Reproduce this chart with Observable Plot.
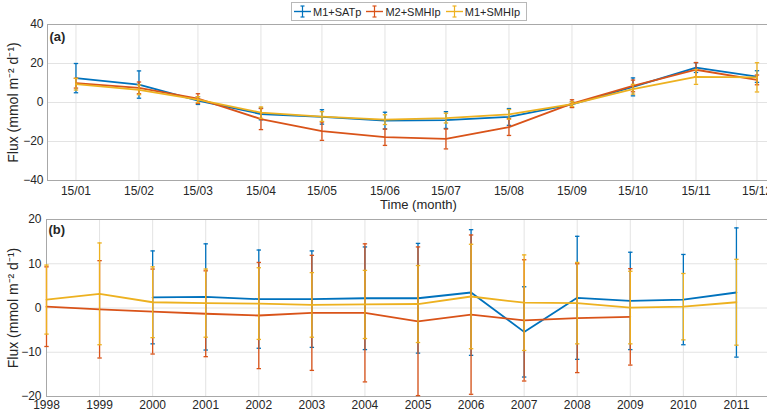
<!DOCTYPE html>
<html>
<head>
<meta charset="utf-8">
<script src="https://cdn.jsdelivr.net/npm/d3@7"></script>
<script src="https://cdn.jsdelivr.net/npm/@observablehq/plot@0.6"></script>
<style>
  html, body { margin: 0; padding: 0; background: #fff; overflow: hidden; }
  #fig { position: relative; width: 800px; height: 424px; font-family: "Liberation Sans", Arial, sans-serif; }
  #legend { position: absolute; left: 291px; top: 2px; height: 17px; border: 1px solid #b8b8b8; background: #fff;
            display: flex; align-items: center; font-size: 11px; color: #262626; padding-right: 3px; z-index: 2; }
  .item { display: flex; align-items: center; margin-right: 3px; }
  .item svg { margin: 0 2px 0 2px; }
  #a, #b { position: absolute; left: 0; }
  #a { top: 0; }
  #b { top: 212px; }
</style>
</head>
<body>
<div id="fig">
  <div id="legend"></div>
  <div id="a"></div>
  <div id="b"></div>
</div>
<script>
// Series names and colours
const seriesNames = ["M1+SATp", "M2+SMHIp", "M1+SMHIp"];
const seriesColors = ["#0072BD", "#D95319", "#EDB120"];

// (a) monthly climatology, mid-month dates
const months = ["15/01", "15/02", "15/03", "15/04", "15/05", "15/06", "15/07", "15/08", "15/09", "15/10", "15/11", "15/12"];
const m1SatpMonthly    = [12.5, 9.2, 1.0, -5.9, -7.4, -9.3, -9.0, -7.4, -1.0, 8.0, 17.9, 13.3];
const m1SatpMonthlyErr = [7.5, 7.0, 2.0, 3.0, 3.7, 4.3, 4.3, 4.3, 1.5, 4.6, 2.5, 3.0];
const m2SmhipMonthly    = [9.9, 7.5, 2.0, -8.5, -14.7, -17.8, -18.7, -12.6, -0.6, 8.5, 16.8, 11.6];
const m2SmhipMonthlyErr = [2.5, 3.0, 2.5, 5.4, 4.7, 4.2, 5.1, 4.3, 2.0, 3.0, 3.7, 2.5];
const m1SmhipMonthly    = [9.4, 6.5, 1.5, -5.2, -7.2, -8.8, -8.0, -6.1, -0.8, 6.8, 13.1, 12.9];
const m1SmhipMonthlyErr = [3.0, 2.5, 1.5, 2.9, 2.5, 2.5, 2.5, 2.5, 1.2, 2.5, 3.8, 7.5];

// (b) annual means, 1998-2011 (null where a series has no value)
const years = [1998, 1999, 2000, 2001, 2002, 2003, 2004, 2005, 2006, 2007, 2008, 2009, 2010, 2011];
const m1SatpAnnual    = [null, null, 2.4, 2.5, 2.0, 2.0, 2.2, 2.2, 3.5, -5.4, 2.3, 1.6, 1.9, 3.5];
const m1SatpAnnualErr = [null, null, 10.5, 12.0, 11.1, 10.9, 11.6, 12.4, 14.2, 10.2, 13.9, 11.0, 10.2, 14.6];
const m2SmhipAnnual    = [0.3, -0.3, -0.8, -1.3, -1.7, -1.1, -1.1, -3.0, -1.5, -2.8, -2.3, -2.0, null, null];
const m2SmhipAnnualErr = [9.0, 11.0, 9.6, 9.7, 12.0, 13.0, 15.6, 16.8, 18.0, 13.7, 12.3, 10.9, null, null];
const m1SmhipAnnual    = [1.9, 3.2, 1.3, 1.1, 1.0, 0.7, 0.8, 0.9, 2.6, 1.2, 1.1, 0.1, 0.3, 1.3];
const m1SmhipAnnualErr = [7.8, 11.5, 8.0, 7.7, 8.1, 7.3, 7.7, 8.7, 11.8, 10.8, 9.2, 8.2, 7.5, 9.7];

const yTicksA = [-40, -20, 0, 20, 40];
const yTicksB = [-20, -10, 0, 10, 20];
const fluxLabel = "Flux (mmol m\u207B\u00B2 d\u207B\u00B9)";

const parseDay = d3.utcParse("%d/%m/%Y");
const monthDates = months.map(m => parseDay(m + "/2000"));

function rows(xs, vals, errs) {
  return xs.map((x, i) => ({x, y: vals[i], e: errs[i]})).filter(d => d.y != null);
}

// horizontal end cap for error bars
const capSymbol = {
  draw(ctx, size) {
    const w = Math.sqrt(size / Math.PI);
    ctx.moveTo(-w, 0);
    ctx.lineTo(w, 0);
  }
};

function seriesMarks(data, color) {
  return [
    Plot.line(data, {x: "x", y: "y", stroke: color, strokeWidth: 1.8}),
    Plot.ruleX(data, {x: "x", y1: d => d.y - d.e, y2: d => d.y + d.e, stroke: color, strokeWidth: 1.3}),
    Plot.dot(data, {x: "x", y: d => d.y + d.e, symbol: capSymbol, r: 2.2, fill: "none", stroke: color, strokeWidth: 1.3}),
    Plot.dot(data, {x: "x", y: d => d.y - d.e, symbol: capSymbol, r: 2.2, fill: "none", stroke: color, strokeWidth: 1.3})
  ];
}

const baseStyle = {fontFamily: "'Liberation Sans', Arial, sans-serif", fontSize: "12px", color: "#262626", background: "#fff"};
const gridColor = "#e3e3e3";
const frameColor = "#a8a8a8";

// (a)
const seriesA = [
  rows(monthDates, m1SatpMonthly, m1SatpMonthlyErr),
  rows(monthDates, m2SmhipMonthly, m2SmhipMonthlyErr),
  rows(monthDates, m1SmhipMonthly, m1SmhipMonthlyErr)
];
const plotA = Plot.plot({
  width: 800, height: 212,
  marginLeft: 47, marginRight: 11, marginTop: 24, marginBottom: 32,
  style: baseStyle,
  x: {type: "utc", domain: [Date.UTC(2000, 0, 1), Date.UTC(2000, 11, 31)]},
  y: {domain: [-40, 40]},
  marks: [
    Plot.gridX(monthDates, {stroke: gridColor, strokeOpacity: 1}),
    Plot.gridY(yTicksA, {stroke: gridColor, strokeOpacity: 1}),
    Plot.frame({stroke: frameColor}),
    ...seriesA.flatMap((s, i) => seriesMarks(s, seriesColors[i])),
    Plot.axisX(monthDates, {tickFormat: d3.utcFormat("%d/%m"), tickSize: 0, tickPadding: 6, label: null, fontSize: 12}),
    Plot.axisY(yTicksA, {tickSize: 0, tickPadding: 4, label: null, fontSize: 12}),
    Plot.text(["(a)"], {frameAnchor: "top-left", dx: 2, dy: 7, lineAnchor: "top", textAnchor: "start", fontWeight: "bold", fontSize: 13}),
    Plot.text(["Time (month)"], {frameAnchor: "bottom", dy: 28, fontSize: 13}),
    Plot.text([fluxLabel], {frameAnchor: "left", dx: -34, rotate: -90, textAnchor: "middle", fontSize: 14})
  ]
});
document.getElementById("a").append(plotA);

// (b)
const seriesB = [
  rows(years, m1SatpAnnual, m1SatpAnnualErr),
  rows(years, m2SmhipAnnual, m2SmhipAnnualErr),
  rows(years, m1SmhipAnnual, m1SmhipAnnualErr)
];
const plotB = Plot.plot({
  width: 800, height: 212,
  marginLeft: 46, marginRight: 11, marginTop: 7, marginBottom: 28,
  style: baseStyle,
  x: {domain: [1998, 2012]},
  y: {domain: [-20, 20]},
  marks: [
    Plot.gridX(years, {stroke: gridColor, strokeOpacity: 1}),
    Plot.gridY(yTicksB, {stroke: gridColor, strokeOpacity: 1}),
    Plot.frame({stroke: frameColor}),
    ...seriesB.flatMap((s, i) => seriesMarks(s, seriesColors[i])),
    Plot.axisX(years, {tickFormat: "d", tickSize: 0, tickPadding: 4, label: null, fontSize: 12}),
    Plot.axisY(yTicksB, {tickSize: 0, tickPadding: 5, label: null, fontSize: 12}),
    Plot.text(["(b)"], {frameAnchor: "top-left", dx: 2, dy: 5, lineAnchor: "top", textAnchor: "start", fontWeight: "bold", fontSize: 13}),
    Plot.text([fluxLabel], {frameAnchor: "left", dx: -33, rotate: -90, textAnchor: "middle", fontSize: 14})
  ]
});
document.getElementById("b").append(plotB);

// legend with small error-bar glyphs
const legend = document.getElementById("legend");
seriesNames.forEach((name, i) => {
  const item = document.createElement("div");
  item.className = "item";
  const c = seriesColors[i];
  item.innerHTML =
    `<svg width="17" height="13" viewBox="0 0 17 13">` +
    `<line x1="0" y1="6.5" x2="17" y2="6.5" stroke="${c}" stroke-width="1.4"/>` +
    `<line x1="8.5" y1="1" x2="8.5" y2="12" stroke="${c}" stroke-width="1.2"/>` +
    `<line x1="6.5" y1="1" x2="10.5" y2="1" stroke="${c}" stroke-width="1.2"/>` +
    `<line x1="6.5" y1="12" x2="10.5" y2="12" stroke="${c}" stroke-width="1.2"/>` +
    `</svg><span>${name}</span>`;
  legend.append(item);
});
</script>
</body>
</html>
